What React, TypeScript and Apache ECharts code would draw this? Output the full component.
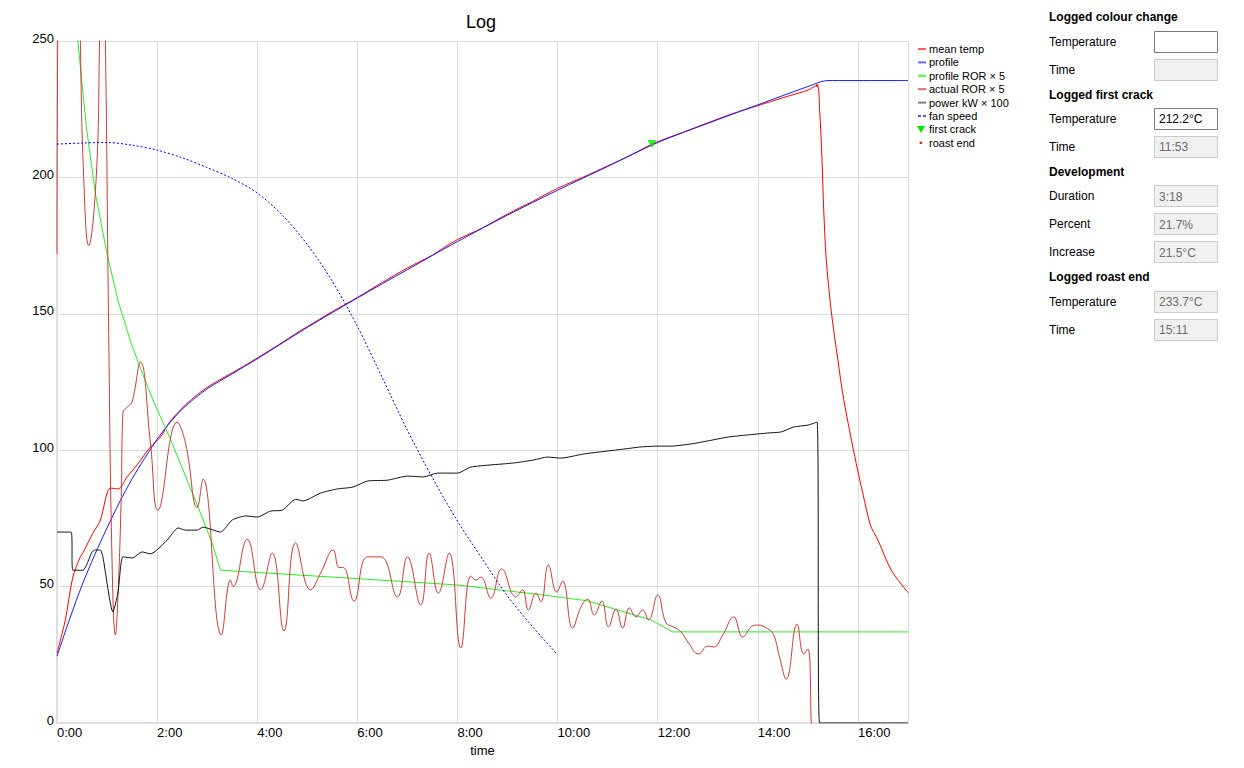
import React, { useEffect, useRef } from "react";
import * as echarts from "echarts";

// time in seconds, values in chart units
const meanTemp: [number, number][] = [
  [0, 25.7], [10, 37.8], [19, 53.5], [28, 60.9], [31, 62.3], [43, 69.6], [52, 74.4], [60, 84.3], [64, 86.1],
  [73, 85.8], [84, 90.2], [96, 94.6], [112, 101.2], [124, 104.8], [135, 110.3], [150, 115.4], [165, 119.6],
  [180, 123], [195, 125.8], [210, 128.4], [225, 131], [240, 133.8], [255, 136.6], [270, 139.5], [285, 142.5],
  [300, 145.3], [330, 150.8], [360, 156], [390, 161.5], [420, 166.8], [450, 171.5], [465, 174.5], [480, 177.2],
  [510, 181.5], [540, 186.6], [570, 191.2], [600, 196], [630, 200], [660, 204.2], [690, 208.5], [713, 212.2],
  [750, 216.5], [780, 220], [810, 223.4], [840, 226.3], [870, 229.2], [890, 231], [900, 232], [911, 233.7],
  [914, 225], [917, 206], [919, 188], [922, 170], [928, 151], [936, 133], [943, 118.5], [958, 95], [966, 84],
  [975, 72.5], [984, 67], [1000, 56], [1020, 47.8],
];

const profile: [number, number][] = [
  [0, 24.5], [15, 38], [30, 50.5], [45, 61.5], [60, 71.5], [75, 81], [90, 89.5], [105, 97], [120, 104],
  [135, 110], [150, 115], [165, 119], [180, 122.5], [195, 125.3], [210, 128], [240, 133.5], [300, 145],
  [360, 155.8], [420, 166.2], [480, 176.5], [540, 186.2], [600, 195.3], [660, 204], [720, 212.8],
  [780, 219.8], [840, 226.6], [900, 233.3], [924, 235.5], [1020, 235.5],
];

const profileRor: [number, number][] = [
  [20, 272], [25, 250], [35, 219], [46, 194], [60, 172], [73, 155], [88, 140], [100, 130], [115, 118.4],
  [136, 104], [156, 89], [172, 77], [187, 65], [196, 56], [340, 53.3], [480, 50.6], [580, 47], [605, 46],
  [636, 44.8], [672, 41.4], [712, 37.8], [738, 33.4], [1020, 33.4],
];

const actualRor: [number, number][] = [
  [0, 172], [3, 320], [14, 420], [24, 330], [28, 250], [32, 200], [38, 175], [47, 200], [51, 250], [54, 310],
  [58, 250], [62, 142], [66, 59], [70, 32.3], [73, 46], [77, 83], [79, 113.6], [85, 116], [90, 117.7],
  [100, 132.3], [112, 102.6], [121, 78], [144, 110.3], [154, 102.6], [168, 79], [175, 89.4], [197, 32.3],
  [208, 52.4], [211, 50], [228, 67.4], [244, 48.8], [258, 62.3], [272, 33.7], [286, 66], [304, 48.8],
  [316, 55], [331, 63.4], [338, 57], [343, 57], [356, 44.7], [372, 60.9], [388, 60.9], [408, 46.2],
  [420, 60.9], [436, 43.3], [446, 62.3], [457, 47.6], [470, 62.3], [484, 27.5], [496, 53.9], [502, 52.4],
  [508, 53.5], [520, 45.8], [533, 56.5], [550, 46.2], [558, 48.8], [565, 41.4], [574, 47.6], [580, 44.4],
  [589, 57.9], [599, 48], [606, 52], [618, 34.8], [628, 42.5], [636, 45.4], [644, 39.6], [653, 44.7],
  [661, 35.2], [670, 41.8], [678, 34.8], [686, 42.2], [694, 38.9], [702, 41.4], [709, 37.8], [720, 46.9],
  [730, 36.7], [739, 35.2], [748, 33.4], [757, 29.3], [769, 25.3], [780, 28.2], [787, 27.9], [798, 32.3],
  [811, 38.9], [822, 31.5], [832, 35.2], [840, 35.9], [852, 34.5], [859, 32.3], [866, 24.2], [874, 16.1],
  [887, 36.3], [895, 25.3], [900, 27.1], [904, 0], [907, -40],
];

const power: [number, number][] = [
  [0, 70], [17, 70], [19, 56], [31, 56], [42, 62.7], [46, 63.4], [52, 63.4], [55, 60.9], [67, 40.7],
  [73, 47.6], [79, 60.9], [90, 60.5], [102, 62.7], [112, 62], [132, 67], [145, 71.5], [154, 70.7],
  [168, 70.7], [175, 71.8], [196, 70], [210, 74.4], [226, 75.9], [240, 75.5], [256, 77.7], [270, 78],
  [286, 82], [295, 81.4], [316, 84.3], [336, 85.8], [355, 86.5], [372, 88.7], [396, 89], [420, 90.5],
  [439, 90.2], [456, 91.6], [480, 91.6], [496, 93.8], [520, 94.6], [547, 95.3], [571, 96.4], [588, 97.5],
  [604, 97.1], [631, 98.6], [660, 99.7], [679, 100.4], [700, 101.2], [721, 101.5], [736, 101.5],
  [760, 102.3], [780, 103.4], [804, 104.8], [828, 105.6], [852, 106.3], [868, 106.7], [883, 108.5],
  [900, 109.2], [911, 110.3], [914, 0], [1020, 0],
];

const fanSpeed: [number, number][] = [
  [0, 212.2], [30, 212.6], [60, 212.8], [90, 211.8], [120, 210], [150, 207.2], [180, 203.6], [210, 199.6],
  [240, 194.3], [270, 186.2], [300, 175.4], [330, 161.9], [360, 145.4], [390, 126.5], [420, 107.3],
  [450, 89.9], [480, 74], [510, 60], [540, 46.5], [570, 35.3], [600, 25],
];

const firstCrack: [number, number][] = [[713, 212.2]];
const roastEnd: [number, number][] = [[911, 233.7]];

const legendNames = [
  "mean temp", "profile", "profile ROR × 5", "actual ROR × 5", "power kW × 100", "fan speed", "first crack", "roast end",
];
const legendKinds = ["line", "line", "line", "line", "line", "dash", "tri", "dot"];
const legendColors = ["#ff5a5a", "#6464ff", "#4cff4c", "#e06a6a", "#808080", "#5a5aff", "#00e600", "#ff0000"];

const panelSections: { title: string; rows: [string, string, boolean][] }[] = [
  { title: "Logged colour change", rows: [["Temperature", "", true], ["Time", "", false]] },
  { title: "Logged first crack", rows: [["Temperature", "212.2°C", true], ["Time", "11:53", false]] },
  { title: "Development", rows: [["Duration", "3:18", false], ["Percent", "21.7%", false], ["Increase", "21.5°C", false]] },
  { title: "Logged roast end", rows: [["Temperature", "233.7°C", false], ["Time", "15:11", false]] },
];

const FONT = "'Liberation Sans', Arial, sans-serif";

function fmtTime(v: number) {
  const m = Math.floor(v / 60);
  const s = Math.round(v % 60);
  return `${m}:${String(s).padStart(2, "0")}`;
}

function buildGraphic() {
  const els: any[] = [];
  // legend
  legendNames.forEach((name, i) => {
    const cy = 49 + i * 13.4;
    const kind = legendKinds[i];
    const c = legendColors[i];
    if (kind === "line") {
      els.push({ type: "rect", shape: { x: 918, y: cy - 1, width: 8, height: 2 }, style: { fill: c } });
    } else if (kind === "dash") {
      els.push({ type: "rect", shape: { x: 918, y: cy - 1, width: 3, height: 2 }, style: { fill: c } });
      els.push({ type: "rect", shape: { x: 923, y: cy - 1, width: 3, height: 2 }, style: { fill: c } });
    } else if (kind === "tri") {
      els.push({ type: "polygon", shape: { points: [[917, cy - 3.5], [925, cy - 3.5], [921, cy + 3.5]] }, style: { fill: c } });
    } else {
      els.push({ type: "circle", shape: { cx: 920.8, cy, r: 1.3 }, style: { fill: c } });
    }
    els.push({
      type: "text", x: 929, y: cy,
      style: { text: name, fill: "#000", font: `11px ${FONT}`, verticalAlign: "middle", align: "left" },
    });
  });
  // side panel
  let y = 17.3;
  panelSections.forEach((sec) => {
    els.push({
      type: "text", x: 1049, y,
      style: { text: sec.title, fill: "#000", font: `bold 12px ${FONT}`, verticalAlign: "middle", align: "left" },
    });
    y += 24.3;
    sec.rows.forEach(([label, value, active], j) => {
      els.push({
        type: "text", x: 1049, y,
        style: { text: label, fill: "#000", font: `12px ${FONT}`, verticalAlign: "middle", align: "left" },
      });
      els.push({
        type: "rect", shape: { x: 1154.5, y: Math.round(y - 11) + 0.5, width: 63, height: 21 },
        style: { fill: active ? "#ffffff" : "#f0f0f0", stroke: active ? "#7a7a7a" : "#cccccc", lineWidth: 1 },
      });
      if (value) {
        els.push({
          type: "text", x: 1159, y: y + 0.5,
          style: { text: value, fill: active ? "#000" : "#6d6d6d", font: `12px ${FONT}`, verticalAlign: "middle", align: "left" },
        });
      }
      y += j === sec.rows.length - 1 ? 25 : 28;
    });
  });
  return els;
}

function lineSeries(name: string, data: [number, number][], color: string, smooth: number | boolean, extra: any = {}) {
  return {
    name, type: "line", data, smooth, symbol: "none", showSymbol: false, clip: true,
    lineStyle: { color, width: 1, ...(extra.lineStyle || {}) },
    itemStyle: { color },
    silent: true,
    z: extra.z || 2,
  };
}

export default function App() {
  const ref = useRef<HTMLDivElement>(null);
  useEffect(() => {
    const chart = echarts.init(ref.current!, null, { renderer: "svg" });
    chart.setOption({
      animation: false,
      backgroundColor: "#ffffff",
      textStyle: { fontFamily: FONT },
      title: {
        text: "Log", left: 466, top: 13, padding: 0,
        textStyle: { fontSize: 18, fontWeight: "normal", color: "#000", fontFamily: FONT },
      },
      grid: { left: 57, right: 336, top: 41, bottom: 45, containLabel: false },
      xAxis: {
        type: "value", min: 0, max: 1020, interval: 120,
        name: "time", nameLocation: "middle", nameGap: 12,
        nameTextStyle: { fontSize: 13, color: "#000", fontFamily: FONT },
        axisLine: { show: true, onZero: false, lineStyle: { color: "#dedede", width: 2 } },
        axisTick: { show: false },
        axisLabel: {
          formatter: (v: number) => fmtTime(v), align: "left", margin: 3, fontSize: 13, color: "#000",
          showMaxLabel: false, fontFamily: FONT,
        },
        splitLine: { show: true, lineStyle: { color: "#dcdcdc", width: 1 } },
      },
      yAxis: {
        type: "value", min: 0, max: 250, interval: 50,
        axisLine: { show: true, lineStyle: { color: "#dedede", width: 2 } },
        axisTick: { show: false },
        axisLabel: {
          fontSize: 13, color: "#000", margin: 3, verticalAlign: "bottom", lineHeight: 6, fontFamily: FONT,
        },
        splitLine: { show: true, lineStyle: { color: "#dcdcdc", width: 1 } },
      },
      series: [
        lineSeries("mean temp", meanTemp, "#ff0000", 0.3),
        lineSeries("profile", profile, "#1a1aff", 0.3),
        lineSeries("profile ROR × 5", profileRor, "#22f022", false),
        lineSeries("actual ROR × 5", actualRor, "#cf3a3a", 0.45),
        lineSeries("power kW × 100", power, "#111111", 0.2),
        lineSeries("fan speed", fanSpeed, "#0000ff", 0.3, { lineStyle: { type: [2, 2] } }),
        {
          name: "first crack", type: "scatter", data: firstCrack, symbol: "triangle", symbolRotate: 180,
          symbolSize: [9, 8], itemStyle: { color: "#00e600" }, z: 5, silent: true,
        },
        {
          name: "roast end", type: "scatter", data: roastEnd, symbol: "circle",
          symbolSize: 3, itemStyle: { color: "#ff0000" }, z: 5, silent: true,
        },
      ],
      graphic: buildGraphic(),
    });
    return () => chart.dispose();
  }, []);
  return (
    <div
      ref={ref}
      style={{ position: "absolute", left: 0, top: 0, width: 1244, height: 768, background: "#fff" }}
    />
  );
}
